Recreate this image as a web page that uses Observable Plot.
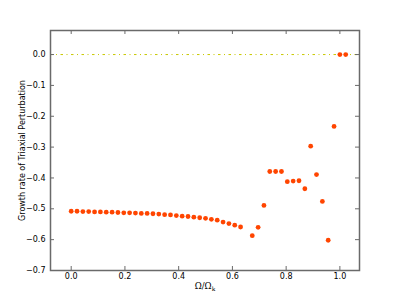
<!DOCTYPE html>
<html><head><meta charset="utf-8">
<script src="https://cdn.jsdelivr.net/npm/d3@7"></script>
<script src="https://cdn.jsdelivr.net/npm/@observablehq/plot@0.6"></script>
<style>body{margin:0;background:#fff;} #chart svg{display:block;}</style>
</head><body><div id="chart"></div>
<script>
const omegaRatio = [0, 0.0217, 0.0435, 0.0652, 0.0870, 0.1087, 0.1304, 0.1522, 0.1739, 0.1957,
  0.2174, 0.2391, 0.2609, 0.2826, 0.3043, 0.3261, 0.3478, 0.3696, 0.3913, 0.4130,
  0.4348, 0.4565, 0.4783, 0.5, 0.5217, 0.5435, 0.5652, 0.5870, 0.6087, 0.6304,
  0.6739, 0.6957, 0.7174, 0.7391, 0.7609, 0.7826, 0.8043, 0.8261, 0.8478, 0.8696,
  0.8913, 0.9130, 0.9348, 0.9565, 0.9783, 1.0, 1.0217];
const growthRate = [-0.508, -0.508, -0.509, -0.509, -0.510, -0.510, -0.511, -0.511, -0.512, -0.513,
  -0.513, -0.514, -0.515, -0.515, -0.516, -0.517, -0.519, -0.520, -0.522, -0.524,
  -0.525, -0.527, -0.529, -0.531, -0.534, -0.537, -0.543, -0.548, -0.553, -0.559,
  -0.587, -0.560, -0.489, -0.379, -0.379, -0.379, -0.412, -0.410, -0.409, -0.435,
  -0.297, -0.389, -0.476, -0.602, -0.233, 0.0, 0.0];
const referenceLevel = [0];
const xTicks = [0, 0.2, 0.4, 0.6, 0.8, 1.0];
const yTicks = [0, -0.1, -0.2, -0.3, -0.4, -0.5, -0.6, -0.7];
const xLabel = ["Ω/Ωk"];
const yLabel = ["Growth rate of Triaxial Perturbation"];

const data = omegaRatio.map((x, i) => ({x, y: growthRate[i]}));
const W = 399, H = 301, mL = 50, mR = 40, mT = 30, mB = 31;
const fw = W - mL - mR, fh = H - mT - mB;
const frameColor = "#6a6a6a";
const fmt = d3.format(".1f");

const chart = Plot.plot({
  width: W, height: H,
  marginLeft: mL, marginRight: mR, marginTop: mT, marginBottom: mB,
  style: {fontFamily: "DejaVu Sans", fontSize: "8px", color: "#000", background: "#fff"},
  x: {domain: [-0.077, 1.073]},
  y: {domain: [-0.7, 0.078]},
  marks: [
    Plot.ruleY(referenceLevel, {y: d => d, stroke: "#c8c800", strokeWidth: 1, strokeDasharray: "2.5,3.5,1,3.5"}),
    Plot.dot(data, {x: "x", y: "y", r: 2.4, fill: "#ff4500", stroke: "none"}),
    Plot.tickX(xTicks, {x: d => d, insetTop: fh - 4, stroke: frameColor}),
    Plot.tickX(xTicks, {x: d => d, insetBottom: fh - 4, stroke: frameColor}),
    Plot.tickY(yTicks, {y: d => d, insetRight: fw - 4, stroke: frameColor}),
    Plot.tickY(yTicks, {y: d => d, insetLeft: fw - 4, stroke: frameColor}),
    Plot.axisX(xTicks, {tickSize: 0, tickPadding: 3, tickFormat: fmt, label: null, fill: "#000"}),
    Plot.axisY(yTicks, {tickSize: 0, tickPadding: 5, tickFormat: fmt, label: null, fill: "#000"}),
    Plot.frame({stroke: frameColor, strokeWidth: 1.5}),
    Plot.text(xLabel, {text: d => d, frameAnchor: "bottom", dy: 18, fontFamily: "DejaVu Serif", fontSize: 8.5, fill: "#000", className: "xlab"}),
    Plot.text(yLabel, {text: d => d, frameAnchor: "left", textAnchor: "middle", rotate: -90, dx: -28, fontSize: 8, fill: "#000"})
  ]
});
document.getElementById("chart").appendChild(chart);
const xl = chart.querySelector(".xlab text");
if (xl) {
  const s = xl.textContent;
  xl.textContent = s.slice(0, -1);
  const ts = document.createElementNS("http://www.w3.org/2000/svg", "tspan");
  ts.setAttribute("font-size", "6");
  ts.setAttribute("dy", "2");
  ts.textContent = s.slice(-1);
  xl.appendChild(ts);
}
</script>
</body></html>
